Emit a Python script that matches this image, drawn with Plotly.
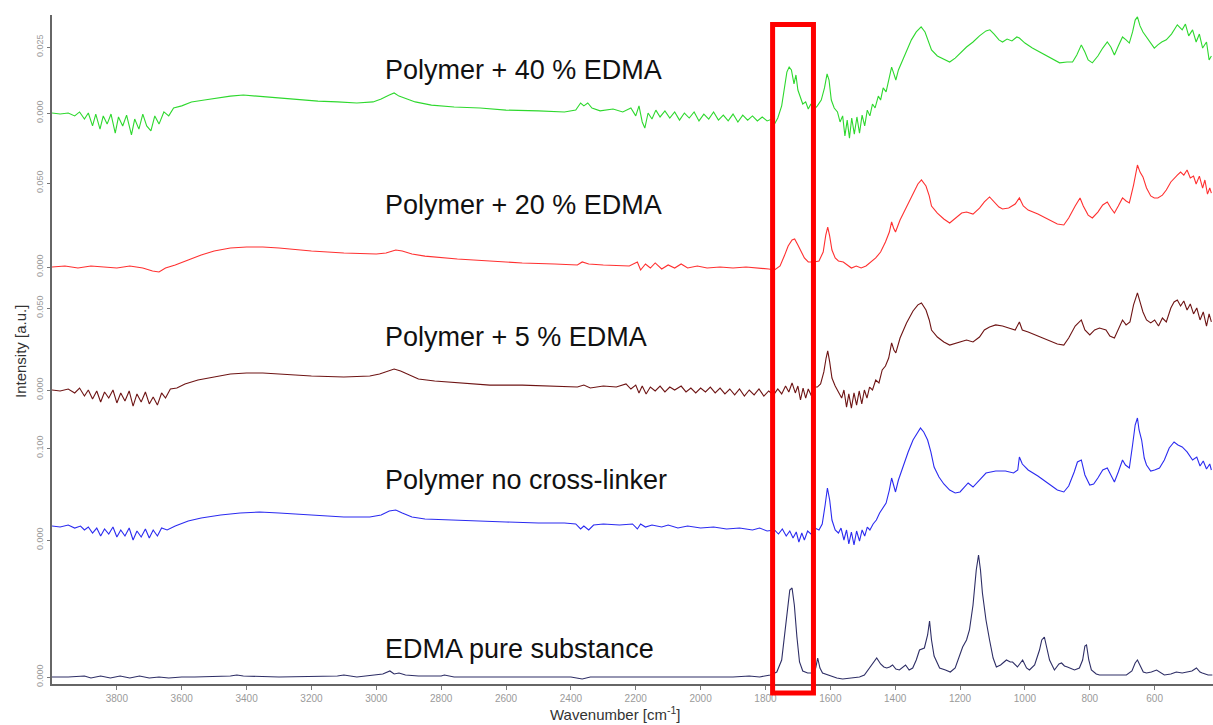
import plotly.graph_objects as go

# ---------------- spectra (wavenumber in cm^-1, intensity in a.u.) ----------------
wn_40 = [4000, 3975, 3950, 3930, 3915, 3900, 3888, 3875, 3865, 3852, 3842, 3830, 3818, 3805, 3795,
         3782, 3770, 3755, 3745, 3732, 3720, 3708, 3695, 3683, 3670, 3655, 3640, 3625, 3600, 3570,
         3530, 3490, 3450, 3410, 3370, 3330, 3290, 3240, 3180, 3120, 3060, 3010, 2985, 2960, 2945,
         2930, 2915, 2880, 2830, 2760, 2680, 2600, 2500, 2420, 2385, 2370, 2360, 2348, 2335, 2310,
         2270, 2240, 2215, 2200, 2190, 2180, 2172, 2162, 2150, 2138, 2125, 2110, 2095, 2080, 2065,
         2050, 2035, 2020, 2005, 1990, 1975, 1960, 1945, 1930, 1915, 1900, 1885, 1870, 1855, 1840,
         1825, 1810, 1795, 1780, 1772, 1762, 1750, 1742, 1734, 1727, 1720, 1712, 1706, 1700, 1693,
         1685, 1676, 1668, 1660, 1652, 1640, 1628, 1618, 1610, 1604, 1597, 1588, 1578, 1570, 1562,
         1555, 1548, 1541, 1534, 1526, 1518, 1510, 1502, 1494, 1486, 1478, 1470, 1462, 1452, 1445,
         1437, 1428, 1418, 1411, 1404, 1398, 1390, 1380, 1365, 1350, 1335, 1320, 1308, 1298, 1288,
         1270, 1250, 1232, 1215, 1195, 1180, 1160, 1140, 1120, 1108, 1095, 1080, 1069, 1055, 1040,
         1025, 1017, 1000, 977, 950, 920, 893, 870, 853, 840, 826, 815, 805, 792, 775,
         760, 746, 735, 724, 712, 699, 688, 678, 668, 660, 653, 645, 636, 625, 612,
         601, 590, 578, 564, 548, 530, 515, 505, 495, 483, 472, 462, 452, 440, 432, 425]
int_40 = [0.0000, -0.0004, 0.0000, -0.0011, 0.0004, -0.0023, 0.0000, -0.0049, -0.0004, -0.0061, -0.0011, -0.0042, -0.0004, -0.0076, -0.0015,
          -0.0049, -0.0008, -0.0083, -0.0023, -0.0061, -0.0004, -0.0049, -0.0068, -0.0011, -0.0042, 0.0004, -0.0011, 0.0019, 0.0027, 0.0042,
          0.0049, 0.0057, 0.0064, 0.0068, 0.0064, 0.0061, 0.0057, 0.0053, 0.0045, 0.0042, 0.0038, 0.0042, 0.0053, 0.0068, 0.0076,
          0.0064, 0.0057, 0.0042, 0.0030, 0.0023, 0.0019, 0.0011, 0.0008, 0.0004, 0.0011, 0.0038, 0.0027, 0.0038, 0.0019, 0.0008,
          0.0015, 0.0004, 0.0019, -0.0011, 0.0027, -0.0034, -0.0057, 0.0000, -0.0023, 0.0011, -0.0015, 0.0008, -0.0019, 0.0004, -0.0027,
          0.0000, -0.0019, 0.0004, -0.0030, -0.0004, -0.0023, 0.0004, -0.0027, -0.0008, -0.0030, -0.0004, -0.0034, -0.0008, -0.0027, -0.0011,
          -0.0030, -0.0015, -0.0030, -0.0023, -0.0042, -0.0019, 0.0027, 0.0087, 0.0155, 0.0174, 0.0163, 0.0110, 0.0144, 0.0087, 0.0064,
          0.0034, 0.0042, 0.0015, 0.0034, 0.0011, 0.0027, 0.0049, 0.0095, 0.0148, 0.0125, 0.0049, 0.0019, 0.0004, -0.0034, -0.0011,
          -0.0087, -0.0027, -0.0095, -0.0019, -0.0080, -0.0015, -0.0076, -0.0008, -0.0049, 0.0011, -0.0011, 0.0034, 0.0019, 0.0064, 0.0049,
          0.0095, 0.0080, 0.0140, 0.0174, 0.0148, 0.0125, 0.0163, 0.0193, 0.0239, 0.0277, 0.0307, 0.0326, 0.0307, 0.0269, 0.0239,
          0.0216, 0.0205, 0.0193, 0.0208, 0.0231, 0.0250, 0.0269, 0.0292, 0.0311, 0.0315, 0.0299, 0.0277, 0.0269, 0.0280, 0.0273,
          0.0288, 0.0284, 0.0265, 0.0246, 0.0227, 0.0208, 0.0190, 0.0193, 0.0193, 0.0220, 0.0258, 0.0231, 0.0201, 0.0190, 0.0216,
          0.0246, 0.0269, 0.0250, 0.0220, 0.0254, 0.0288, 0.0277, 0.0265, 0.0307, 0.0352, 0.0364, 0.0330, 0.0307, 0.0288, 0.0265,
          0.0246, 0.0258, 0.0269, 0.0277, 0.0299, 0.0334, 0.0315, 0.0337, 0.0292, 0.0315, 0.0269, 0.0299, 0.0246, 0.0269, 0.0201, 0.0216]

wn_20 = [4000, 3960, 3920, 3880, 3840, 3800, 3760, 3720, 3690, 3670, 3650, 3620, 3580, 3540, 3500,
         3450, 3400, 3350, 3300, 3200, 3100, 3000, 2970, 2940, 2920, 2890, 2850, 2750, 2650, 2550,
         2450, 2380, 2365, 2345, 2300, 2220, 2195, 2185, 2170, 2155, 2140, 2120, 2100, 2080, 2060,
         2040, 2010, 1980, 1940, 1900, 1860, 1820, 1790, 1772, 1755, 1742, 1730, 1718, 1710, 1700,
         1690, 1680, 1668, 1650, 1635, 1622, 1614, 1608, 1602, 1595, 1585, 1575, 1560, 1548, 1535,
         1520, 1505, 1490, 1479, 1460, 1445, 1430, 1418, 1411, 1405, 1399, 1385, 1365, 1345, 1330,
         1319, 1305, 1295, 1288, 1270, 1250, 1232, 1210, 1195, 1180, 1160, 1140, 1125, 1109, 1095,
         1080, 1069, 1050, 1030, 1017, 1005, 990, 960, 930, 900, 880, 865, 845, 830, 820,
         805, 792, 775, 760, 746, 735, 724, 712, 699, 688, 678, 665, 653, 645, 636,
         625, 612, 601, 590, 576, 564, 550, 540, 530, 520, 510, 500, 490, 480, 472,
         462, 452, 445, 437, 430, 425]
int_20 = [0.0000, 0.0006, -0.0006, 0.0006, 0.0000, -0.0006, 0.0006, -0.0006, -0.0024, -0.0030, -0.0006, 0.0012, 0.0042, 0.0071, 0.0095,
          0.0113, 0.0119, 0.0119, 0.0113, 0.0095, 0.0083, 0.0077, 0.0083, 0.0101, 0.0095, 0.0077, 0.0065, 0.0048, 0.0036, 0.0024,
          0.0018, 0.0012, 0.0030, 0.0018, 0.0012, 0.0006, 0.0030, -0.0018, 0.0018, -0.0006, 0.0024, -0.0012, 0.0012, -0.0006, 0.0018,
          -0.0006, 0.0006, -0.0006, 0.0000, -0.0006, 0.0000, -0.0006, -0.0012, -0.0018, 0.0006, 0.0065, 0.0125, 0.0161, 0.0167, 0.0131,
          0.0089, 0.0054, 0.0030, 0.0030, 0.0036, 0.0089, 0.0190, 0.0238, 0.0184, 0.0101, 0.0054, 0.0036, 0.0030, 0.0012, -0.0006,
          0.0006, -0.0006, 0.0006, 0.0024, 0.0054, 0.0089, 0.0149, 0.0208, 0.0268, 0.0232, 0.0208, 0.0280, 0.0357, 0.0440, 0.0494,
          0.0518, 0.0482, 0.0423, 0.0363, 0.0321, 0.0286, 0.0262, 0.0298, 0.0321, 0.0327, 0.0315, 0.0351, 0.0387, 0.0417, 0.0387,
          0.0357, 0.0345, 0.0351, 0.0375, 0.0411, 0.0363, 0.0339, 0.0315, 0.0286, 0.0256, 0.0250, 0.0292, 0.0363, 0.0411, 0.0363,
          0.0309, 0.0292, 0.0327, 0.0369, 0.0387, 0.0351, 0.0321, 0.0363, 0.0411, 0.0393, 0.0381, 0.0488, 0.0607, 0.0565, 0.0536,
          0.0470, 0.0423, 0.0411, 0.0411, 0.0428, 0.0458, 0.0506, 0.0530, 0.0547, 0.0565, 0.0547, 0.0577, 0.0530, 0.0541, 0.0494,
          0.0541, 0.0470, 0.0518, 0.0434, 0.0470, 0.0440]

wn_5 = [4000, 3975, 3950, 3930, 3915, 3900, 3888, 3875, 3862, 3850, 3838, 3825, 3812, 3800, 3788,
        3775, 3762, 3750, 3738, 3725, 3712, 3700, 3688, 3675, 3662, 3650, 3635, 3615, 3590, 3550,
        3500, 3450, 3400, 3350, 3300, 3200, 3100, 3020, 2990, 2965, 2945, 2925, 2900, 2870, 2820,
        2750, 2650, 2550, 2450, 2380, 2360, 2340, 2300, 2260, 2230, 2215, 2200, 2190, 2180, 2168,
        2155, 2140, 2125, 2110, 2095, 2080, 2060, 2045, 2030, 2015, 2000, 1985, 1970, 1955, 1940,
        1925, 1910, 1895, 1880, 1865, 1850, 1835, 1820, 1805, 1790, 1775, 1762, 1750, 1738, 1728,
        1718, 1708, 1700, 1692, 1684, 1676, 1668, 1658, 1648, 1640, 1630, 1620, 1613, 1608, 1602,
        1595, 1585, 1575, 1565, 1558, 1550, 1543, 1535, 1527, 1519, 1511, 1503, 1495, 1487, 1479,
        1470, 1460, 1450, 1440, 1430, 1420, 1411, 1404, 1398, 1385, 1365, 1345, 1330, 1319, 1305,
        1295, 1288, 1270, 1250, 1232, 1210, 1195, 1180, 1160, 1140, 1125, 1109, 1090, 1069, 1050,
        1030, 1017, 1008, 990, 960, 930, 900, 880, 865, 845, 826, 815, 800, 785, 770,
        750, 738, 724, 710, 699, 688, 676, 665, 653, 645, 636, 625, 612, 600, 588,
        576, 564, 550, 540, 530, 520, 510, 500, 490, 480, 470, 460, 450, 440, 432, 425]
int_5 = [0.0000, -0.0006, 0.0006, -0.0018, 0.0012, -0.0037, 0.0000, -0.0055, -0.0006, -0.0073, -0.0012, -0.0049, 0.0000, -0.0079, -0.0018,
         -0.0067, -0.0006, -0.0098, -0.0024, -0.0073, -0.0012, -0.0085, -0.0043, -0.0092, -0.0018, -0.0049, 0.0006, 0.0012, 0.0037, 0.0061,
         0.0079, 0.0098, 0.0104, 0.0104, 0.0098, 0.0085, 0.0079, 0.0085, 0.0098, 0.0116, 0.0128, 0.0116, 0.0092, 0.0067, 0.0055,
         0.0043, 0.0030, 0.0030, 0.0024, 0.0018, 0.0030, 0.0012, 0.0024, 0.0018, 0.0037, 0.0006, 0.0030, -0.0018, 0.0024, -0.0024,
         0.0018, -0.0006, 0.0024, -0.0012, 0.0018, 0.0000, 0.0024, -0.0012, 0.0012, -0.0018, 0.0012, -0.0012, 0.0018, -0.0018, 0.0012,
         -0.0024, 0.0006, -0.0030, 0.0006, -0.0037, 0.0000, -0.0030, 0.0006, -0.0037, -0.0006, -0.0030, 0.0006, -0.0024, 0.0024, -0.0012,
         0.0043, -0.0018, 0.0024, -0.0061, 0.0012, -0.0049, 0.0006, -0.0037, 0.0018, 0.0018, 0.0037, 0.0110, 0.0195, 0.0238, 0.0171,
         0.0073, 0.0024, -0.0012, -0.0049, 0.0000, -0.0104, -0.0024, -0.0110, -0.0018, -0.0092, -0.0006, -0.0085, 0.0000, -0.0049, 0.0018,
         0.0000, 0.0061, 0.0043, 0.0122, 0.0146, 0.0195, 0.0287, 0.0244, 0.0226, 0.0317, 0.0409, 0.0482, 0.0519, 0.0531, 0.0488,
         0.0427, 0.0366, 0.0323, 0.0293, 0.0274, 0.0287, 0.0299, 0.0305, 0.0293, 0.0323, 0.0366, 0.0384, 0.0397, 0.0390, 0.0378,
         0.0366, 0.0415, 0.0366, 0.0354, 0.0329, 0.0305, 0.0281, 0.0274, 0.0317, 0.0390, 0.0427, 0.0366, 0.0336, 0.0366, 0.0378,
         0.0366, 0.0329, 0.0317, 0.0378, 0.0427, 0.0397, 0.0415, 0.0519, 0.0592, 0.0537, 0.0476, 0.0427, 0.0409, 0.0427, 0.0390,
         0.0439, 0.0415, 0.0500, 0.0537, 0.0549, 0.0512, 0.0543, 0.0488, 0.0525, 0.0464, 0.0500, 0.0427, 0.0476, 0.0390, 0.0464, 0.0415]

wn_0 = [4000, 3975, 3950, 3930, 3912, 3900, 3888, 3875, 3862, 3850, 3838, 3825, 3812, 3800, 3788,
        3775, 3762, 3750, 3738, 3725, 3712, 3700, 3688, 3675, 3662, 3645, 3620, 3580, 3540, 3480,
        3420, 3360, 3300, 3200, 3100, 3020, 2985, 2960, 2940, 2920, 2890, 2850, 2780, 2700, 2600,
        2500, 2420, 2385, 2370, 2360, 2345, 2330, 2300, 2250, 2210, 2195, 2185, 2170, 2150, 2120,
        2100, 2070, 2040, 2000, 1960, 1920, 1880, 1840, 1818, 1795, 1772, 1760, 1748, 1736, 1725,
        1715, 1705, 1697, 1688, 1680, 1670, 1660, 1648, 1635, 1625, 1616, 1609, 1602, 1595, 1585,
        1575, 1567, 1558, 1550, 1543, 1535, 1527, 1519, 1510, 1502, 1494, 1486, 1478, 1468, 1458,
        1448, 1438, 1428, 1418, 1411, 1405, 1399, 1390, 1375, 1360, 1345, 1330, 1322, 1312, 1300,
        1290, 1280, 1265, 1250, 1232, 1215, 1200, 1185, 1175, 1160, 1140, 1120, 1090, 1060, 1035,
        1022, 1017, 1008, 990, 960, 930, 900, 880, 865, 848, 838, 826, 815, 800, 788,
        775, 760, 746, 735, 724, 712, 699, 690, 678, 668, 660, 653, 648, 640, 632,
        625, 612, 600, 585, 570, 555, 540, 528, 515, 500, 483, 470, 460, 450, 440, 430, 425]
int_0 = [0.0152, 0.0141, 0.0163, 0.0130, 0.0152, 0.0109, 0.0141, 0.0076, 0.0130, 0.0043, 0.0120, 0.0065, 0.0141, 0.0033, 0.0109,
         0.0043, 0.0130, 0.0000, 0.0098, 0.0033, 0.0120, 0.0022, 0.0109, 0.0043, 0.0130, 0.0109, 0.0152, 0.0207, 0.0239, 0.0272,
         0.0293, 0.0304, 0.0293, 0.0272, 0.0250, 0.0250, 0.0272, 0.0315, 0.0326, 0.0293, 0.0250, 0.0228, 0.0217, 0.0207, 0.0196,
         0.0185, 0.0185, 0.0174, 0.0120, 0.0152, 0.0109, 0.0163, 0.0174, 0.0163, 0.0174, 0.0120, 0.0174, 0.0141, 0.0163, 0.0141,
         0.0163, 0.0130, 0.0152, 0.0130, 0.0141, 0.0120, 0.0130, 0.0109, 0.0130, 0.0098, 0.0109, 0.0065, 0.0120, 0.0043, 0.0098,
         0.0022, 0.0087, -0.0022, 0.0076, 0.0000, 0.0098, 0.0065, 0.0130, 0.0109, 0.0174, 0.0380, 0.0565, 0.0435, 0.0217, 0.0109,
         0.0076, 0.0130, 0.0000, 0.0109, -0.0043, 0.0087, -0.0054, 0.0098, -0.0011, 0.0109, 0.0043, 0.0141, 0.0109, 0.0174, 0.0217,
         0.0293, 0.0348, 0.0402, 0.0543, 0.0674, 0.0598, 0.0522, 0.0652, 0.0815, 0.0957, 0.1087, 0.1174, 0.1217, 0.1174, 0.1087,
         0.0957, 0.0793, 0.0685, 0.0609, 0.0543, 0.0511, 0.0522, 0.0587, 0.0620, 0.0576, 0.0652, 0.0728, 0.0750, 0.0750, 0.0728,
         0.0761, 0.0902, 0.0826, 0.0761, 0.0696, 0.0620, 0.0543, 0.0522, 0.0587, 0.0739, 0.0848, 0.0870, 0.0707, 0.0598, 0.0609,
         0.0674, 0.0761, 0.0783, 0.0707, 0.0630, 0.0739, 0.0870, 0.0815, 0.0783, 0.1033, 0.1250, 0.1326, 0.1196, 0.1087, 0.0891,
         0.0815, 0.0750, 0.0761, 0.0783, 0.0870, 0.1000, 0.1065, 0.1033, 0.1011, 0.0957, 0.0870, 0.0902, 0.0804, 0.0859, 0.0772, 0.0826, 0.0761]

wn_edma = [4000, 3950, 3900, 3880, 3850, 3820, 3790, 3760, 3730, 3700, 3670, 3640, 3600, 3560, 3450,
           3430, 3410, 3300, 3120, 3100, 3060, 3010, 2980, 2958, 2945, 2930, 2910, 2870, 2800, 2790,
           2760, 2600, 2400, 2365, 2340, 2200, 2000, 1900, 1850, 1818, 1785, 1765, 1750, 1740, 1732,
           1725, 1718, 1711, 1703, 1695, 1685, 1670, 1658, 1645, 1639, 1632, 1624, 1600, 1580, 1562,
           1540, 1510, 1495, 1480, 1468, 1457, 1445, 1435, 1426, 1417, 1408, 1398, 1387, 1377, 1368,
           1357, 1346, 1335, 1325, 1310, 1300, 1294, 1288, 1280, 1263, 1245, 1230, 1215, 1200, 1192,
           1180, 1171, 1160, 1150, 1143, 1137, 1131, 1120, 1109, 1098, 1088, 1075, 1057, 1045, 1038,
           1023, 1007, 995, 986, 970, 955, 948, 940, 932, 924, 909, 895, 887, 878, 869,
           847, 832, 822, 815, 810, 803, 795, 780, 770, 720, 687, 670, 660, 653, 645,
           635, 625, 610, 594, 580, 570, 550, 533, 515, 502, 485, 471, 460, 453, 435, 422]
int_edma = [0.000, 0.000, 0.001, -0.001, 0.001, -0.001, 0.001, -0.001, 0.001, -0.001, 0.000, -0.001, 0.000, 0.000, 0.001,
            0.002, 0.001, 0.000, 0.001, 0.002, 0.000, 0.002, 0.003, 0.006, 0.003, 0.004, 0.002, 0.001, 0.001, 0.002,
            0.000, 0.000, 0.000, -0.002, 0.000, 0.000, 0.000, 0.000, 0.001, 0.000, 0.002, 0.005, 0.017, 0.045, 0.072,
            0.087, 0.089, 0.072, 0.040, 0.015, 0.006, 0.004, 0.004, 0.009, 0.019, 0.009, 0.004, 0.001, -0.001, -0.002,
            -0.001, 0.000, 0.002, 0.009, 0.014, 0.019, 0.013, 0.010, 0.009, 0.010, 0.012, 0.008, 0.007, 0.010, 0.012,
            0.007, 0.009, 0.017, 0.027, 0.029, 0.042, 0.056, 0.037, 0.021, 0.009, 0.007, 0.005, 0.009, 0.022, 0.030,
            0.037, 0.047, 0.072, 0.107, 0.122, 0.107, 0.084, 0.057, 0.037, 0.019, 0.010, 0.012, 0.017, 0.015, 0.015,
            0.010, 0.017, 0.009, 0.007, 0.012, 0.027, 0.037, 0.040, 0.029, 0.017, 0.007, 0.013, 0.014, 0.011, 0.010,
            0.007, 0.009, 0.017, 0.031, 0.032, 0.017, 0.007, 0.003, 0.002, 0.002, 0.002, 0.006, 0.014, 0.017, 0.011,
            0.005, 0.004, 0.005, 0.007, 0.004, 0.002, 0.003, 0.005, 0.004, 0.005, 0.006, 0.009, 0.005, 0.004, 0.002, 0.002]

labels = ["Polymer + 40 % EDMA", "Polymer + 20 % EDMA", "Polymer + 5 % EDMA",
          "Polymer no cross-linker", "EDMA pure substance"]
x_ticks = [3800, 3600, 3400, 3200, 3000, 2800, 2600, 2400, 2200, 2000, 1800, 1600, 1400, 1200, 1000, 800, 600]
# labelled intensity ticks per spectrum (baseline tick, upper tick)
y_ticks = [[0.0, 0.025], [0.0, 0.05], [0.0, 0.05], [0.0, 0.1], [0.0]]
# highlighted C=O region
box_wn = [1778, 1652]

# ---------------- layout geometry ----------------
W, H = 1213, 725
M_L, M_R, M_T, M_B = 52, 0, 15, 41
PLOT_H = H - M_T - M_B
# pixel row of each spectrum's zero line and its intensity per pixel
zero_px = [113, 267, 390, 540, 677]
per_px = [0.025 / 66, 0.05 / 84, 0.05 / 82, 0.1 / 92, 0.001]
colors = ["#2ed82e", "#ff3030", "#6e1414", "#2b2bf0", "#2e2e66"]
label_px = [70, 205, 337, 480, 649]

spectra = [(wn_40, int_40), (wn_20, int_20), (wn_5, int_5), (wn_0, int_0), (wn_edma, int_edma)]

fig = go.Figure()
for i, (wn, val) in enumerate(spectra):
    fig.add_trace(go.Scatter(
        x=wn, y=val, mode="lines", name=labels[i],
        line=dict(color=colors[i], width=1.1),
        yaxis="y" if i == 0 else f"y{i + 1}",
        showlegend=False, hoverinfo="skip"))

bottom_px = H - M_B
for i in range(5):
    r0 = -(bottom_px - zero_px[i]) * per_px[i]
    r1 = (zero_px[i] - M_T) * per_px[i]
    ax = dict(
        range=[r0, r1], domain=[0, 1], anchor="x",
        tickvals=y_ticks[i], ticktext=[f"{v:.3f}" for v in y_ticks[i]],
        tickangle=-90, tickfont=dict(size=9, color="#9a9a9a", family="Liberation Sans, Arial"),
        ticks="outside", ticklen=3, tickcolor="#777",
        showline=True, linecolor="#666", linewidth=2,
        showgrid=False, zeroline=False, fixedrange=True)
    if i == 0:
        fig.update_layout(yaxis=ax)
    else:
        ax["overlaying"] = "y"
        fig.update_layout(**{f"yaxis{i + 1}": ax})

fig.update_layout(
    width=W, height=H,
    margin=dict(l=M_L, r=M_R, t=M_T, b=M_B),
    paper_bgcolor="white", plot_bgcolor="white",
    showlegend=False,
    xaxis=dict(
        range=[4000, 420], tickvals=x_ticks, ticktext=[str(v) for v in x_ticks],
        ticks="outside", ticklen=4, tickcolor="#777",
        tickfont=dict(size=10, color="#9a9a9a", family="Liberation Sans, Arial"),
        showline=True, linecolor="#666", linewidth=2,
        showgrid=False, zeroline=False, fixedrange=True),
)

# sample names
for i, text in enumerate(labels):
    fig.add_annotation(
        xref="paper", yref="paper", x=(383 - M_L) / (W - M_L - M_R),
        y=(bottom_px - label_px[i]) / PLOT_H,
        text=text, showarrow=False, xanchor="left", yanchor="middle",
        font=dict(size=27, color="#111", family="Liberation Sans, Arial"))

# axis titles
fig.add_annotation(
    xref="paper", yref="paper", x=(20 - M_L) / (W - M_L - M_R), y=(bottom_px - 352) / PLOT_H,
    text="Intensity [a.u.]", textangle=-90, showarrow=False,
    xanchor="center", yanchor="middle",
    font=dict(size=15, color="#333", family="Liberation Sans, Arial"))
fig.add_annotation(
    xref="paper", yref="paper", x=(615 - M_L) / (W - M_L - M_R), y=(bottom_px - 713) / PLOT_H,
    text="Wavenumber [cm<sup>-1</sup>]", showarrow=False,
    xanchor="center", yanchor="middle",
    font=dict(size=15, color="#333", family="Liberation Sans, Arial"))

# red frame around the carbonyl band
fig.add_shape(
    type="rect", xref="x", yref="paper",
    x0=box_wn[0], x1=box_wn[1],
    y0=(bottom_px - 693) / PLOT_H, y1=(bottom_px - 24.5) / PLOT_H,
    line=dict(color="#ff0000", width=5), fillcolor="rgba(0,0,0,0)", layer="above")

fig.write_html("out.html")
